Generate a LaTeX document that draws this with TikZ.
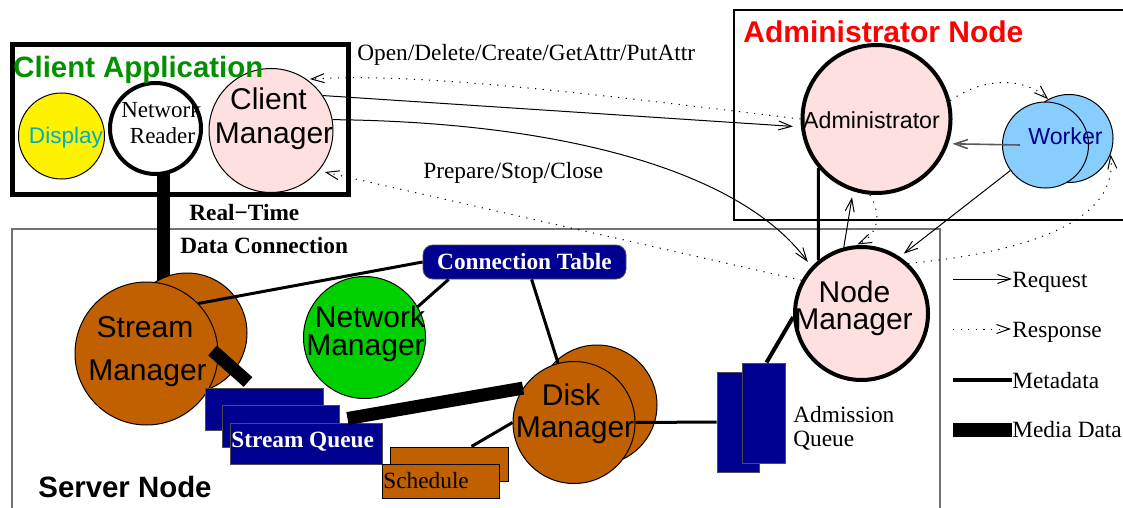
\documentclass[tikz,border=0pt]{standalone}
\usepackage{fontspec}
\setmainfont{Liberation Serif}
\setsansfont{Liberation Sans}
\usetikzlibrary{arrows.meta,backgrounds}

\definecolor{mgrpink}{RGB}{255,224,224}
\definecolor{rust}{RGB}{192,96,0}
\definecolor{navy}{RGB}{0,0,144}
\definecolor{appgreen}{RGB}{0,144,0}
\definecolor{netgreen}{RGB}{0,208,0}
\definecolor{dispcyan}{RGB}{0,176,192}
\definecolor{ltblue}{RGB}{135,206,255}
\definecolor{arrowgray}{RGB}{90,90,90}

\tikzset{
  proc/.style={circle, draw, inner sep=0pt, line width=0.5pt},
  bigproc/.style={circle, draw, inner sep=0pt, line width=2pt},
  lbl/.style={font=\fontsize{11.65}{13}\selectfont, inner sep=0pt, anchor=base west},
  blbl/.style={font=\fontsize{11.65}{13}\selectfont\bfseries, inner sep=0pt, anchor=base west},
  mgrtxt/.style={font=\sffamily\fontsize{15}{17}\selectfont, inner sep=0pt, anchor=base},
  smalltxt/.style={font=\sffamily\fontsize{11.6}{13}\selectfont, inner sep=0pt, anchor=base},
  title/.style={font=\sffamily\bfseries\fontsize{14.7}{16}\selectfont, inner sep=0pt, anchor=base west},
  req/.style={line width=0.5pt, -{Straight Barb[length=6.5pt,width=4.5pt]}},
  resp/.style={req, dash pattern=on 0.6pt off 3.2pt},
  meta/.style={line width=1.5pt},
  media/.style={line width=6.5pt},
  queue/.style={draw=black!70, fill=navy, inner sep=0pt, line width=0.5pt},
  sched/.style={draw, fill=rust, inner sep=0pt, line width=0.5pt}
}

\begin{document}
\begin{tikzpicture}[x=0.5pt,y=-0.5pt]
\useasboundingbox (0,0) rectangle (1123,508);

% ---------------- frames ----------------
\draw[line width=0.6pt] (734,10) rectangle (1140,220);
\draw[line width=2.5pt] (12,45) rectangle (348,194);

% ---------------- client application ----------------
\node[proc, fill=yellow, minimum size=43pt] (display) at (61.5,136) {};
\node[bigproc, fill=white, minimum size=45.5pt] (netreader) at (155.5,128.5) {};
\node[proc, fill=mgrpink, minimum size=62pt] (cmgr) at (271,130.5) {};

% ---------------- administrator node ----------------
\node[bigproc, fill=mgrpink, minimum size=74pt] (admin) at (876.5,119) {};
\node[proc, fill=ltblue, minimum size=44pt] (wback) at (1069,138.5) {};
\node[proc, fill=ltblue, minimum size=43pt] (wfront) at (1045.5,145) {};

% ---------------- server node ----------------
\node[bigproc, fill=mgrpink, minimum size=66.5pt] (nodem) at (861.5,313.5) {};
\node[proc, fill=rust, minimum size=60pt] (smback) at (187,333) {};
\node[proc, fill=rust, minimum size=71.5pt] (smfront) at (146.5,353.5) {};
\node[proc, fill=netgreen, minimum size=61pt] (netm) at (364.5,337.5) {};
\node[proc, fill=rust, minimum size=60pt] (dmback) at (597,405) {};
\node[proc, fill=rust, minimum size=61pt] (dmfront) at (574,422.5) {};

\node[draw=black!70, fill=navy, rounded corners=5pt, minimum width=101.5pt,
      minimum height=17pt, inner sep=0pt, text=white,
      font=\fontsize{11.65}{13}\selectfont\bfseries] (ctable) at (524.5,262) {Connection Table};

\node[queue, minimum width=59pt, minimum height=21pt] (sq1) at (264,409) {};
\node[queue, minimum width=58.5pt, minimum height=21pt] (sq2) at (280.5,426) {};
\node[queue, minimum width=76pt, minimum height=20.5pt] (sq3) at (306,443.5) {};
\node[blbl, text=white] (sqtxt) at (231,447) {Stream Queue};

\node[sched, minimum width=59pt, minimum height=17pt] (sc1) at (449,464) {};
\node[sched, minimum width=58.5pt, minimum height=17pt] (sc2) at (440.5,481) {};
\node[lbl] (sctxt) at (383,488) {Schedule};

\node[queue, minimum width=21pt, minimum height=50pt] (aq1) at (738,422) {};
\node[queue, minimum width=21.5pt, minimum height=50pt] (aq2) at (763.5,413) {};
\node[lbl] (aqtxtA) at (793,422) {Admission};
\node[lbl] (aqtxtB) at (793,446) {Queue};

% server frame and real-time connection sit behind everything
\begin{pgfonlayer}{background}
  \draw[black!55, line width=0.8pt] (12,229) rectangle (940,540);
  \draw[media] ([xshift=4pt]netreader.center) -- ([xshift=4pt]netreader.center |- smback.center);
\end{pgfonlayer}

% ---------------- node labels ----------------
\node[font=\sffamily\fontsize{11.3}{13}\selectfont, text=dispcyan, inner sep=0pt, anchor=base] (displaytxt) at (66,143) {Display};
\node[font=\fontsize{11.5}{13}\selectfont, inner sep=0pt, anchor=base] (nrtxtA) at (161.5,118) {Network};
\node[font=\fontsize{11.5}{13}\selectfont, inner sep=0pt, anchor=base] (nrtxtB) at (162.5,143) {Reader};
\node[mgrtxt] (cmtxtA) at (268.5,110) {Client};
\node[mgrtxt] (cmtxtB) at (274,143) {Manager};
\node[smalltxt] (admtxt) at (871.5,128) {Administrator};
\node[smalltxt, text=navy] (wktxt) at (1065.5,144) {Worker};
\node[mgrtxt] (nmtxtA) at (854.5,302) {Node};
\node[mgrtxt] (nmtxtB) at (853.5,329) {Manager};
\node[mgrtxt] (smtxtA) at (145,337) {Stream};
\node[mgrtxt] (smtxtB) at (147.5,380) {Manager};
\node[mgrtxt] (nettxtA) at (370,327) {Network};
\node[mgrtxt] (nettxtB) at (365.5,355) {Manager};
\node[mgrtxt] (dmtxtA) at (571,405) {Disk};
\node[mgrtxt] (dmtxtB) at (575,437) {Manager};

% ---------------- titles and captions ----------------
\node[title, text=appgreen] (apptitle) at (13,78) {Client Application};
\node[title, text=red, font=\sffamily\bfseries\fontsize{15}{16}\selectfont] (admtitle) at (743,43) {Administrator Node};
\node[title] (srvtitle) at (38,497) {Server Node};
\node[lbl] (oplbl) at (357,61) {Open/Delete/Create/GetAttr/PutAttr};
\node[lbl] (pslbl) at (423,178) {Prepare/Stop/Close};
\node[blbl] (rtlbl) at (189,220) {Real−Time};
\node[blbl] (dclbl) at (180,253) {Data Connection};

% ---------------- metadata paths ----------------
\draw[meta] (smfront.44) -- (ctable.west);
\draw[meta] (netm.30) -- ([xshift=13pt]ctable.south west);
\draw[meta] ([xshift=54.5pt]ctable.south west) -- (dmfront.105);
\draw[meta] (dmfront.east) -- (aq1.west);
\draw[meta] (dmfront.west) -- ([xshift=41pt]sc1.north west);
\draw[line width=2pt] ([xshift=12.5pt]aq2.north west) -- (nodem.183);
\draw[meta] (admin.220) -- (nodem.129.4);

% ---------------- media data paths ----------------
\coordinate (sqin) at (248,382);
\draw[media] ([shift={(66,-3)}]smfront.center) -- (sqin);
\draw[media] ([shift={(-35,-4)}]sq3.north east) -- (dmfront.146);

% ---------------- requests ----------------
\draw[req, shorten >=4pt] (cmgr.34) -- (admin.186);
\draw[req, shorten >=3pt] (cmgr.10) .. controls (560,122) and (740,170) .. (nodem.137);
\draw[req, shorten >=3pt] (nodem.105) -- (admin.252);
\draw[req, shorten >=2.5pt] (wfront.216) -- (nodem.56);
\draw[req, arrowgray, line width=0.8pt, shorten >=2pt] ([xshift=-12.75pt]wfront.center) -- (admin.-19);

% ---------------- responses ----------------
\draw[resp, shorten >=1.5pt] (admin.west) .. controls (600,95) and (420,72) .. (cmgr.55);
\draw[resp, shorten >=3pt] (nodem.151) -- (cmgr.-40);
\draw[resp, shorten >=1pt] (admin.265) .. controls (882,215) and (878,235) .. (nodem.95);
\draw[resp] (admin.14) .. controls (985,76) and (1025,78) .. (wback.118);
\draw[resp] (nodem.47) .. controls (1000,255) and (1120,230) .. (wback.-21);

% ---------------- legend ----------------
\coordinate (lgReqA) at (953,279);
\coordinate (lgReqB) at (1012,279);
\draw[req] (lgReqA) -- (lgReqB);
\node[lbl] (lgReq) at (1012,287) {Request};
\coordinate (lgRspA) at (953,329);
\coordinate (lgRspB) at (1011,329);
\draw[resp] (lgRspA) -- (lgRspB);
\node[lbl] (lgRsp) at (1012,337) {Response};
\coordinate (lgMetaA) at (953,380);
\coordinate (lgMetaB) at (1012,380);
\draw[line width=2pt] (lgMetaA) -- (lgMetaB);
\node[lbl] (lgMeta) at (1012,388) {Metadata};
\node[fill=black, minimum width=29.5pt, minimum height=7pt, inner sep=0pt] (lgMediaBar) at (982.5,430) {};
\node[lbl] (lgMedia) at (1012,437) {Media Data};
\end{tikzpicture}
\end{document}
